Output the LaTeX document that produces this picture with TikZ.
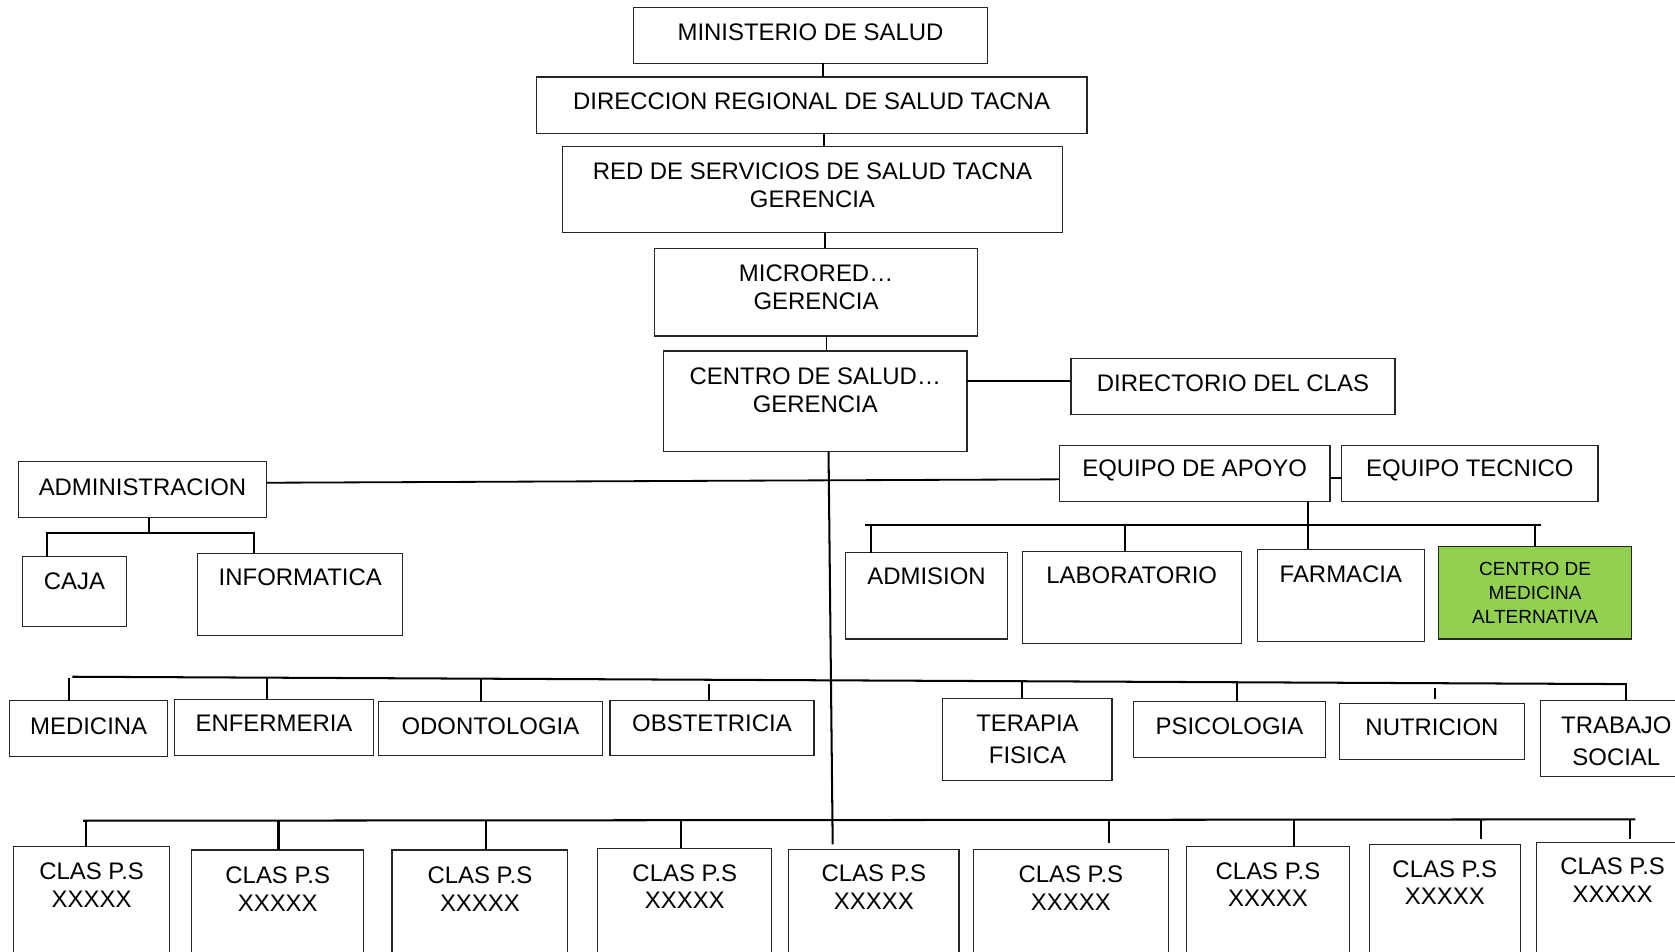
\documentclass[tikz,border=0pt]{standalone}
\usepackage{fontspec}
\setmainfont{Liberation Sans}
\usetikzlibrary{calc}
\definecolor{altgreen}{HTML}{92D050}
\newcommand\bx[8][]{%
  \node[box,#1,minimum width={(#5-#3)*1pt},minimum height={(#6-#4)*1pt}] (#2) at ({(#3+#5)/2},{(#4+#6)/2}) {};
  \node[txt] (#2-t) at ({(#3+#5)/2},#7) {#8};}
\begin{document}
\begin{tikzpicture}[x=1pt,y=-1pt,
  box/.style={draw=black!85,line width=1.1pt,inner sep=0pt,outer sep=0pt,rectangle},
  txt/.style={inner sep=0pt,align=center,font=\fontsize{22.4}{25.7}\selectfont},
  conn/.style={line width=1.9pt,black}]
\clip (0,0) rectangle (1568,891);
\fill[white] (0,0) rectangle (1568,891);

% top chain
\bx{mins}{593.2}{6.9}{924.3}{59.3}{30.3}{MINISTERIO DE SALUD}
\bx{dir}{501.9}{72.1}{1017.5}{124.8}{95.2}{DIRECCION REGIONAL DE SALUD TACNA}
\bx{red}{526.5}{137.3}{994.5}{217.5}{173.6}{RED DE SERVICIOS DE SALUD TACNA\\GERENCIA}
\bx{micro}{612.7}{232.5}{915.2}{314.5}{268.9}{MICRORED…\\GERENCIA}
\bx{cs}{621.3}{328.6}{905.2}{422.8}{365.5}{CENTRO DE SALUD…\\GERENCIA}
\bx{dirc}{1002.5}{335.8}{1305.8}{388.2}{358.8}{DIRECTORIO DEL CLAS}
\bx{apoyo}{991.7}{417.2}{1245}{469.7}{440}{EQUIPO DE APOYO}
\bx{tec}{1256}{417.2}{1495.9}{469.7}{440}{EQUIPO TECNICO}

% administracion
\bx{adm}{17.5}{432.2}{249.2}{484.6}{456}{ADMINISTRACION}
\bx{caja}{21}{521.1}{118.3}{586.7}{544.5}{CAJA}
\bx{info}{185}{518}{377.1}{595.1}{540.8}{INFORMATICA}

% equipo de apoyo row
\bx{admi}{791.4}{517.4}{943.3}{598.2}{539.8}{ADMISION}
\bx{lab}{956.9}{516.1}{1162}{602.6}{538.9}{LABORATORIO}
\bx{farm}{1177}{514.3}{1333.4}{600.7}{537.4}{FARMACIA}
\node[box,fill=altgreen,minimum width=181pt,minimum height=86.4pt] (cma) at (1437,555) {};
\node[txt,font=\fontsize{17.8}{22.6}\selectfont] (cma-t) at (1437,555.3) {CENTRO DE\\MEDICINA\\ALTERNATIVA};

% middle row
\bx{med}{9}{656}{157}{708.4}{679.7}{MEDICINA}
\bx{enf}{163}{654.7}{350}{707.4}{677.2}{ENFERMERIA}
\bx{odo}{354}{656.9}{564.1}{707.4}{680.3}{ODONTOLOGIA}
\bx{obs}{571}{655.4}{762}{707.4}{677.2}{OBSTETRICIA}
\bx{ter}{882.6}{653.8}{1041}{730.8}{692}{TERAPIA\\[3.9pt]FISICA}
\bx{psi}{1061.1}{656.5}{1240.7}{709}{680.3}{PSICOLOGIA}
\bx{nut}{1253.7}{658.4}{1427.2}{710.8}{681.2}{NUTRICION}
\bx{tra}{1442.2}{656}{1584}{727.1}{694.2}{TRABAJO\\[4pt]SOCIAL}

% CLAS row
\bx{c1}{12.5}{792.6}{159}{905}{828.5}{CLAS P.S\\XXXXX}
\bx{c2}{179.5}{795.7}{340.5}{905}{832.2}{CLAS P.S\\XXXXX}
\bx{c3}{367}{795.7}{531.5}{905}{832.2}{CLAS P.S\\XXXXX}
\bx{c4}{559.6}{794.2}{722.5}{905}{830}{CLAS P.S\\XXXXX}
\bx{c5}{738.3}{795.1}{897.7}{905}{830.5}{CLAS P.S\\XXXXX}
\bx{c6}{911.2}{795.1}{1093.7}{905}{831.6}{CLAS P.S\\XXXXX}
\bx{c7}{1110.8}{792.6}{1263.2}{905}{827.9}{CLAS P.S\\XXXXX}
\bx{c8}{1281.8}{790.4}{1423.2}{905}{826.3}{CLAS P.S\\XXXXX}
\bx{c9}{1438.2}{788.5}{1581}{905}{823.8}{CLAS P.S\\XXXXX}

% ---- connectors ----
\draw[line width=1.6pt] (mins.south -| 770.7,0) -- (dir.north -| 770.7,0);
\draw[line width=1.6pt] (dir.south -| 771.2,0) -- (red.north -| 771.2,0);
\draw[line width=1.6pt] (red.south -| 772.2,0) -- (micro.north -| 772.2,0);
\draw[line width=1.6pt] (micro.south -| 773.6,0) -- (cs.north -| 773.6,0);
\coordinate (tb) at (779.5,790.4);
\draw[conn] (cs.south -| 775.6,0) -- (tb);
\draw[line width=2.4pt] (cs.east |- 0,356.7) -- (dirc.west |- 0,356.7);
\draw[conn,line width=1.7pt] (adm.east |- 0,451.9) -- (apoyo.west |- 0,448.7);
\draw[conn] (apoyo.east |- 0,447.8) -- (tec.west |- 0,447.8);

% administracion subtree
\coordinate (ab) at (139.5,498.7);
\coordinate (abL) at (44,498.7);
\coordinate (abR) at (238,498.7);
\draw[conn] (adm.south -| ab) -- (ab);
\draw[conn,line cap=rect] (abL) -- (abR);
\draw[conn] (abL) -- (caja.north -| abL);
\draw[conn] (abR) -- (info.north -| abR);

% equipo de apoyo subtree
\coordinate (eL) at (810,491.5);
\coordinate (eR) at (1443,491.5);
\draw[conn] (eL) -- (eR);
\coordinate (e1) at (815.5,491.5);
\coordinate (e2) at (1053,491.5);
\coordinate (e3) at (1224.5,491.5);
\coordinate (e4) at (1437,491.5);
\draw[conn] (e1) -- (admi.north -| e1);
\draw[conn] (e2) -- (lab.north -| e2);
\draw[conn] (apoyo.south -| e3) -- (farm.north -| e3);
\draw[conn] (e4) -- (cma.north -| e4);

% middle bus
\coordinate (mL) at (67.7,633.5);
\coordinate (mR) at (1523,640.4);
\draw[conn] (mL) -- (mR);
\coordinate (m1) at (64.2,634.4);
\coordinate (m2) at (249.7,634.4);
\coordinate (m3) at (450.3,635.3);
\coordinate (m4) at (663.4,640.2);
\coordinate (m5) at (956.9,637.7);
\coordinate (m6) at (1158.4,638.7);
\coordinate (m7a) at (1343,644.4);
\coordinate (m7b) at (1343,654.4);
\coordinate (m8) at (1522,640.4);
\draw[conn] (m1) -- (med.north -| m1);
\draw[conn] (m2) -- (enf.north -| m2);
\draw[conn] (m3) -- (odo.north -| m3);
\draw[conn] (m4) -- (obs.north -| m4);
\draw[conn] (m5) -- (ter.north -| m5);
\draw[conn] (m6) -- (psi.north -| m6);
\draw[conn] (m7a) -- (m7b);
\draw[conn] (m8) -- (tra.north -| m8);

% bottom bus
\coordinate (bL) at (77.7,768.3);
\coordinate (bR) at (1531,767);
\draw[conn] (bL) -- (bR);
\coordinate (b1) at (80.2,768.3);
\coordinate (b2) at (260.7,768.1);
\coordinate (b3) at (455.3,768);
\coordinate (b4) at (637.3,767.8);
\coordinate (b6a) at (1038.1,767.4);
\coordinate (b6b) at (1038.1,789.5);
\coordinate (b7) at (1211.6,767.3);
\coordinate (b8a) at (1386.1,767.1);
\coordinate (b8b) at (1386.1,785.7);
\coordinate (b9a) at (1525.9,767);
\coordinate (b9b) at (1525.9,785.7);
\draw[conn] (b1) -- (c1.north -| b1);
\draw[conn] (b2) -- (c2.north -| b2);
\draw[conn] (b3) -- (c3.north -| b3);
\draw[conn] (b4) -- (c4.north -| b4);
\draw[conn] (b6a) -- (b6b);
\draw[conn] (b7) -- (c7.north -| b7);
\draw[conn] (b8a) -- (b8b);
\draw[conn] (b9a) -- (b9b);
\end{tikzpicture}
\end{document}
